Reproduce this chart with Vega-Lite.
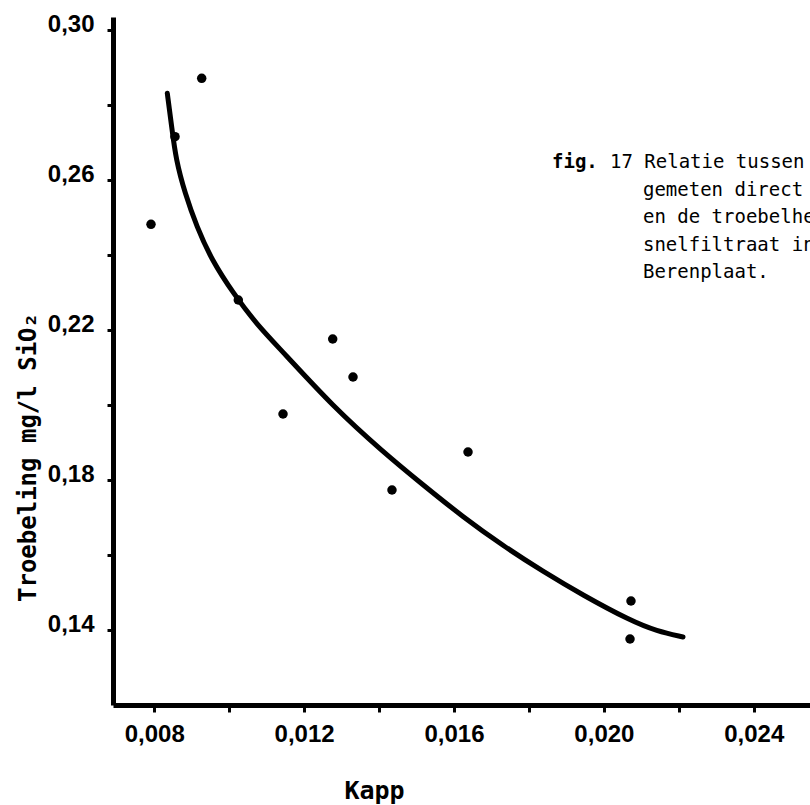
{
  "$schema": "https://vega.github.io/schema/vega-lite/v6.json",
  "width": 697,
  "height": 688,
  "autosize": {"type": "none"},
  "padding": {"left": 113, "top": 17, "right": 0, "bottom": 100},
  "background": "white",
  "config": {"view": {"stroke": null}, "axis": {"grid": false}},
  "datasets": {
    "curve": [
      {"kapp": 0.008349, "troebeling": 0.28315},
      {"kapp": 0.008466, "troebeling": 0.27424},
      {"kapp": 0.008581, "troebeling": 0.26536},
      {"kapp": 0.008821, "troebeling": 0.25648},
      {"kapp": 0.009134, "troebeling": 0.24757},
      {"kapp": 0.009534, "troebeling": 0.23869},
      {"kapp": 0.01011, "troebeling": 0.22981},
      {"kapp": 0.010735, "troebeling": 0.2215},
      {"kapp": 0.011437, "troebeling": 0.21415},
      {"kapp": 0.012771, "troebeling": 0.19961},
      {"kapp": 0.014105, "troebeling": 0.18751},
      {"kapp": 0.015173, "troebeling": 0.17871},
      {"kapp": 0.01624, "troebeling": 0.17014},
      {"kapp": 0.017308, "troebeling": 0.16247},
      {"kapp": 0.018375, "troebeling": 0.15561},
      {"kapp": 0.019442, "troebeling": 0.14927},
      {"kapp": 0.020697, "troebeling": 0.14254},
      {"kapp": 0.021417, "troebeling": 0.13967},
      {"kapp": 0.022111, "troebeling": 0.13814}
    ],
    "points": [
      {"kapp": 0.007914, "troebeling": 0.24821},
      {"kapp": 0.008555, "troebeling": 0.27157},
      {"kapp": 0.009267, "troebeling": 0.28715},
      {"kapp": 0.010244, "troebeling": 0.22802},
      {"kapp": 0.012763, "troebeling": 0.21762},
      {"kapp": 0.013305, "troebeling": 0.20748},
      {"kapp": 0.011437, "troebeling": 0.19761},
      {"kapp": 0.016374, "troebeling": 0.18748},
      {"kapp": 0.014345, "troebeling": 0.17734},
      {"kapp": 0.020723, "troebeling": 0.14774},
      {"kapp": 0.020697, "troebeling": 0.1376}
    ],
    "captionHead": [
      {"kapp": 0.018615, "troebeling": 0.26483, "label": "fig."}
    ],
    "caption": [
      {"kapp": 0.020163, "troebeling": 0.26483, "label": "17 Relatie tussen"},
      {"kapp": 0.021043, "troebeling": 0.25749, "label": "gemeten direct"},
      {"kapp": 0.021043, "troebeling": 0.25016, "label": "en de troebelhe"},
      {"kapp": 0.021043, "troebeling": 0.24282, "label": "snelfiltraat in"},
      {"kapp": 0.021043, "troebeling": 0.23549, "label": "Berenplaat."}
    ]
  },
  "encoding": {
    "x": {
      "field": "kapp",
      "type": "quantitative",
      "scale": {"domain": [0.0069, 0.0255], "nice": false, "zero": false},
      "axis": {
        "title": "Kapp",
        "values": [0.008, 0.01, 0.012, 0.014, 0.016, 0.018, 0.02, 0.022, 0.024],
        "labelExpr": "(round(datum.value*1000) % 4 == 0) ? replace(format(datum.value, '.3f'), '.', ',') : ''",
        "labelOverlap": false,
        "labelFlush": false,
        "domainColor": "#000",
        "domainWidth": 5,
        "tickColor": "#000",
        "tickWidth": 3,
        "tickSize": 7,
        "labelFont": "Liberation Sans",
        "labelFontWeight": "bold",
        "labelFontSize": 24,
        "labelColor": "#000",
        "labelBaseline": "top",
        "labelPadding": 10,
        "titleFont": "DejaVu Sans Mono",
        "titleFontWeight": "bold",
        "titleFontSize": 25,
        "titleColor": "#000",
        "titleX": 261,
        "titleY": 85,
        "titleAlign": "center",
        "titleBaseline": "middle"
      }
    },
    "y": {
      "field": "troebeling",
      "type": "quantitative",
      "scale": {"domain": [0.12, 0.3035], "nice": false, "zero": false},
      "axis": {
        "title": "Troebeling mg/l SiO₂",
        "values": [0.14, 0.16, 0.18, 0.2, 0.22, 0.24, 0.26, 0.28, 0.3],
        "labelExpr": "(round(datum.value*100) % 4 == 2) ? replace(format(datum.value, '.2f'), '.', ',') : ''",
        "labelOverlap": false,
        "labelFlush": false,
        "domainColor": "#000",
        "domainWidth": 5,
        "tickColor": "#000",
        "tickWidth": 3,
        "tickSize": 6,
        "labelFont": "Liberation Sans",
        "labelFontWeight": "bold",
        "labelFontSize": 24,
        "labelColor": "#000",
        "labelBaseline": "middle",
        "labelPadding": 13,
        "labelOffset": -6,
        "titleFont": "DejaVu Sans Mono",
        "titleFontWeight": "bold",
        "titleFontSize": 24,
        "titleColor": "#000",
        "titleAngle": -90,
        "titleX": -85,
        "titleY": 440,
        "titleAlign": "center",
        "titleBaseline": "middle"
      }
    }
  },
  "layer": [
    {
      "data": {"name": "curve"},
      "mark": {"type": "line", "interpolate": "basis", "color": "#000", "strokeWidth": 5, "strokeCap": "round"}
    },
    {
      "data": {"name": "points"},
      "mark": {"type": "circle", "size": 90, "color": "#000", "opacity": 1}
    },
    {
      "data": {"name": "captionHead"},
      "mark": {"type": "text", "font": "DejaVu Sans Mono", "fontWeight": "bold", "fontSize": 19, "align": "left", "baseline": "middle", "color": "#000"},
      "encoding": {"text": {"field": "label"}}
    },
    {
      "data": {"name": "caption"},
      "mark": {"type": "text", "font": "DejaVu Sans Mono", "fontSize": 19, "align": "left", "baseline": "middle", "color": "#000"},
      "encoding": {"text": {"field": "label"}}
    }
  ]
}
